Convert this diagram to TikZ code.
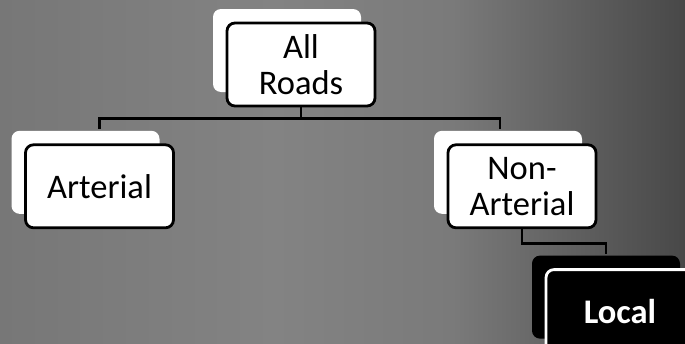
\documentclass[tikz,border=0pt]{standalone}
\usepackage{fontspec}
\setmainfont{Carlito}
\usetikzlibrary{positioning,shadows,calc}
\definecolor{bgleft}{RGB}{119,119,119}
\definecolor{bgmid}{RGB}{131,131,131}
\definecolor{bgmidright}{RGB}{122,122,122}
\definecolor{bgright}{RGB}{72,72,72}
\pgfdeclarehorizontalshading{roadshade}{100bp}{color(0bp)=(bgleft); color(25bp)=(bgleft); color(45bp)=(bgmid); color(58bp)=(bgmidright); color(75bp)=(bgright); color(100bp)=(bgright)}
\tikzset{
    % Define box styles
    basebox/.style={
        rectangle, line width=2.8pt,
        minimum width=148pt, minimum height=83pt, align=center,
        rounded corners=8pt, font=\fontsize{34.5}{36}\selectfont
    },
    roadbox/.style={
        basebox, draw=black, fill=white, text=black,
        general shadow={shadow xshift=-14pt, shadow yshift=14pt, fill=white}
    },
    localbox/.style={
        basebox, draw=white, fill=black, text=white,
        font=\fontsize{34.5}{36}\selectfont\bfseries,
        general shadow={shadow xshift=-14pt, shadow yshift=14pt, fill=black}
    },
    link/.style={
        draw=black, line width=2.8pt
    }
}

\begin{document}
\begin{tikzpicture}

% Background
\useasboundingbox (0,0) rectangle (685pt,-343pt);
\clip (0,0) rectangle (685pt,-343pt);
\shade[shading=roadshade] (0,0) rectangle (685pt,-343pt);

% Road hierarchy
\node[roadbox] (root) at (301pt,-64.5pt) {All\\Roads};
\node[roadbox, below=36pt of root, xshift=-201.5pt] (arterial) {Arterial};
\node[roadbox, below=36pt of root, xshift=221pt] (nonart) {Non-\\Arterial};
\node[localbox, below=39pt of nonart, xshift=98pt] (local) {Local};

% Connectors
\coordinate[below=11pt of root.south] (fork);
\coordinate[below=14pt of nonart.south] (bend);
\draw[link] (root.south) -- (fork);
\draw[link] (fork) -| ([yshift=14pt]arterial.north);
\draw[link] (fork) -| ([xshift=-22pt,yshift=14pt]nonart.north);
\draw[link] (nonart.south) -- (bend) -| ([xshift=-14pt,yshift=14pt]local.north);

\end{tikzpicture}
\end{document}
